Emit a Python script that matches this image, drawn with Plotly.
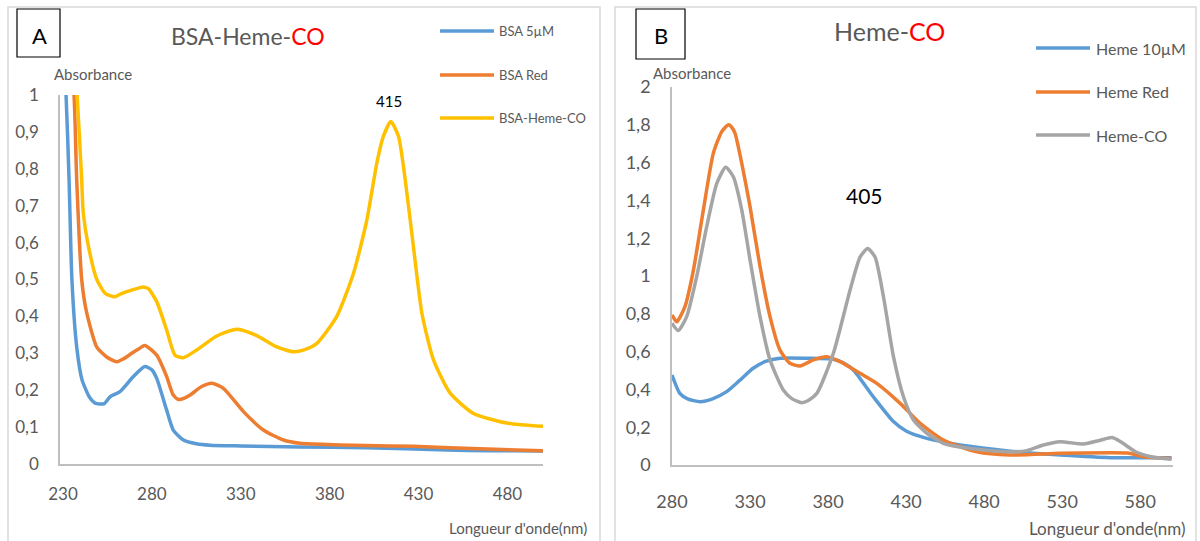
import plotly.graph_objects as go

# ---------------- Panel A data (BSA) ----------------
bsa_wl = [230, 231.7, 233.4, 235, 237.7, 240.7, 245, 248, 253, 256.4, 262, 269.6, 276, 280, 282.7,
          288.3, 292, 297.7, 305, 312.7, 330, 363, 400, 446, 470, 500]
bsa_abs = [1.12, 1.0, 0.77, 0.5, 0.317, 0.228, 0.18, 0.165, 0.163, 0.182, 0.196, 0.237, 0.264, 0.255, 0.232,
           0.146, 0.092, 0.065, 0.055, 0.051, 0.049, 0.046, 0.044, 0.038, 0.036, 0.035]

bsared_wl = [230, 236.2, 237.7, 240.5, 243.3, 249, 254.6, 260.2, 264, 268.7, 272, 276, 282.7, 288.3, 292,
             294.9, 298, 301.5, 308, 313.7, 320.2, 331.5, 342.7, 354, 363.4, 371, 400, 427, 460, 500]
bsared_abs = [1.4, 1.0, 0.77, 0.5, 0.41, 0.317, 0.29, 0.277, 0.285, 0.30, 0.31, 0.321, 0.295, 0.237, 0.187,
              0.175, 0.178, 0.187, 0.21, 0.219, 0.205, 0.142, 0.092, 0.065, 0.056, 0.054, 0.050, 0.048, 0.042, 0.036]

bsaco_wl = [230, 237.9, 240.5, 241.4, 244.3, 249, 253.6, 256, 259.3, 262, 267.7, 272, 275.2, 278, 282.7,
            288.3, 293, 297.7, 305.2, 316.5, 327.7, 339, 350, 359.6, 366, 372.8, 384, 393.4, 400.9, 406.5,
            410.2, 414.4, 418.7, 422.5, 427.1, 431.9, 438.4, 447.8, 460.9, 479.7, 500]
bsaco_abs = [1.5, 1.0, 0.77, 0.68, 0.59, 0.5, 0.463, 0.457, 0.453, 0.46, 0.47, 0.476, 0.48, 0.475, 0.44,
             0.363, 0.295, 0.288, 0.309, 0.347, 0.365, 0.348, 0.318, 0.304, 0.31, 0.327, 0.40, 0.517, 0.661, 0.815,
             0.888, 0.928, 0.888, 0.77, 0.589, 0.408, 0.282, 0.192, 0.137, 0.111, 0.102]

# ---------------- Panel B data (Heme) ----------------
heme_wl = [280, 285, 290, 298, 306, 315, 323, 332, 340, 349.2, 366.3, 383.4, 390, 396.2, 409, 421.9, 430,
           443.3, 464.6, 486, 507.4, 528.7, 560.8, 600]
heme_abs = [0.476, 0.379, 0.35, 0.335, 0.35, 0.388, 0.445, 0.512, 0.548, 0.565, 0.565, 0.56, 0.54, 0.503,
            0.361, 0.23, 0.18, 0.141, 0.106, 0.083, 0.065, 0.053, 0.039, 0.038]

hemered_wl = [280, 283, 288.3, 293.7, 300.1, 306.5, 311.9, 316.1, 318, 320.4, 324.7, 330, 336.4, 342.8, 349.2,
              355.6, 362, 370.6, 379.2, 387.7, 400.5, 411.2, 426.2, 432.6, 439, 453.9, 475.3, 496.7, 528.7,
              560.8, 572, 582, 600]
hemered_abs = [0.794, 0.758, 0.838, 1.03, 1.35, 1.65, 1.764, 1.80, 1.79, 1.755, 1.596, 1.367, 1.05, 0.785, 0.608,
               0.538, 0.524, 0.556, 0.573, 0.547, 0.485, 0.432, 0.326, 0.273, 0.22, 0.132, 0.07, 0.053, 0.062,
               0.065, 0.063, 0.044, 0.035]

hemeco_wl = [280, 284, 289.4, 295.8, 302.2, 308.7, 314.4, 319.3, 324.7, 330, 336.4, 342.8, 351.3, 357, 363.1,
             367, 372.8, 383.4, 394.1, 400.5, 405.4, 410.1, 415.5, 421.9, 428.3, 434.7, 443.3, 453.9, 475.3,
             496.7, 507.4, 518, 528.7, 543.6, 554, 562, 568, 577, 587, 600]
hemeco_abs = [0.75, 0.711, 0.785, 0.996, 1.26, 1.49, 1.575, 1.525, 1.349, 1.085, 0.785, 0.556, 0.397, 0.35, 0.33,
              0.34, 0.379, 0.591, 0.926, 1.10, 1.146, 1.10, 0.89, 0.573, 0.361, 0.238, 0.168, 0.115, 0.083,
              0.07, 0.076, 0.106, 0.123, 0.111, 0.13, 0.145, 0.12, 0.07, 0.044, 0.03]

names_a = ["BSA 5µM", "BSA Red", "BSA-Heme-CO"]
names_b = ["Heme 10µM", "Heme Red", "Heme-CO"]
colors_a = ["#5B9BD5", "#ED7D31", "#FFC000"]
colors_b = ["#5B9BD5", "#ED7D31", "#A5A5A5"]

yticks_a = [0, 0.1, 0.2, 0.3, 0.4, 0.5, 0.6, 0.7, 0.8, 0.9, 1]
yticktext_a = ["0", "0,1", "0,2", "0,3", "0,4", "0,5", "0,6", "0,7", "0,8", "0,9", "1"]
xticks_a = [230, 280, 330, 380, 430, 480]
yticks_b = [0, 0.2, 0.4, 0.6, 0.8, 1, 1.2, 1.4, 1.6, 1.8, 2]
yticktext_b = ["0", "0,2", "0,4", "0,6", "0,8", "1", "1,2", "1,4", "1,6", "1,8", "2"]
xticks_b = [280, 330, 380, 430, 480, 530, 580]

W, H = 1200, 541
FONT = "Lato, Open Sans, sans-serif"
GREY_TXT = "#595959"
AX = "#BFBFBF"

def px(x):
    return x / W

def py(y):
    return 1 - y / H

fig = go.Figure()

series_a = [(bsa_wl, bsa_abs), (bsared_wl, bsared_abs), (bsaco_wl, bsaco_abs)]
series_b = [(heme_wl, heme_abs), (hemered_wl, hemered_abs), (hemeco_wl, hemeco_abs)]

for (x, y), n, c in zip(series_a, names_a, colors_a):
    fig.add_trace(go.Scatter(x=x, y=y, name=n, mode="lines",
                             line=dict(color=c, width=3.5, shape="spline", smoothing=0.6),
                             xaxis="x", yaxis="y", showlegend=False, hoverinfo="skip"))
for (x, y), n, c in zip(series_b, names_b, colors_b):
    fig.add_trace(go.Scatter(x=x, y=y, name=n, mode="lines",
                             line=dict(color=c, width=3.5, shape="spline", smoothing=0.6),
                             xaxis="x2", yaxis="y2", showlegend=False, hoverinfo="skip"))

def axis(size, **kw):
    d = dict(showgrid=False, zeroline=False, showline=True, linecolor=AX, linewidth=1.5,
             ticks="", automargin=False, tickfont=dict(family=FONT, size=size, color=GREY_TXT))
    d.update(kw)
    return d

fig.update_layout(
    template="none",
    width=W, height=H, margin=dict(l=0, r=0, t=0, b=0, autoexpand=False),
    paper_bgcolor="white", plot_bgcolor="white", showlegend=False,
    xaxis=axis(17, domain=[px(60), px(543)], range=[228.3, 500], anchor="y",
               tickvals=xticks_a, ticklabelstandoff=14),
    yaxis=axis(17, domain=[py(464), py(95)], range=[0, 1], anchor="x",
               tickvals=yticks_a, ticktext=yticktext_a, ticklabelstandoff=16),
    xaxis2=axis(18, domain=[px(672), px(1173)], range=[280, 601], anchor="y2",
                tickvals=xticks_b, ticklabelstandoff=20),
    yaxis2=axis(18, domain=[py(465), py(87)], range=[0, 2], anchor="x2",
                tickvals=yticks_b, ticktext=yticktext_b, ticklabelstandoff=16),
)

shapes = []
annotations = []

def note(text, x, y, size, color=GREY_TXT, xanchor="center"):
    annotations.append(dict(text=text, x=px(x), y=py(y), xref="paper", yref="paper", showarrow=False,
                            xanchor=xanchor, yanchor="middle",
                            font=dict(family=FONT, size=size, color=color)))

# panel frames
shapes.append(dict(type="rect", xref="paper", yref="paper", x0=px(8), x1=px(600), y0=py(548), y1=py(7),
                   line=dict(color="#D9D9D9", width=1.5), layer="below"))
shapes.append(dict(type="rect", xref="paper", yref="paper", x0=px(615), x1=px(1196), y0=py(548), y1=py(7),
                   line=dict(color="#D9D9D9", width=1.5), layer="below"))

# letter boxes
shapes.append(dict(type="rect", xref="paper", yref="paper", x0=px(17), x1=px(60), y0=py(57), y1=py(9),
                   line=dict(color="black", width=1.2)))
shapes.append(dict(type="rect", xref="paper", yref="paper", x0=px(636), x1=px(685), y0=py(59), y1=py(9),
                   line=dict(color="black", width=1.2)))
note("A", 39, 35, 22, "black")
note("B", 661, 36, 22, "black")

# titles
note("BSA-Heme-<span style='color:#FF0000'>CO</span>", 248, 36, 23)
note("Heme-<span style='color:#FF0000'>CO</span>", 889, 31, 25)

# axis titles
note("Absorbance", 93, 74, 15)
note("Absorbance", 692, 73, 15)
note("Longueur d'onde(nm)", 589, 528, 15, xanchor="right")
note("Longueur d'onde(nm)", 1188, 528, 17, xanchor="right")

# peak labels
note("415", 389, 101, 15, "black")
note("405", 864, 196, 21, "black")

# manual legends
leg_a_y = [31, 75, 118]
for n, c, yy in zip(names_a, colors_a, leg_a_y):
    shapes.append(dict(type="line", xref="paper", yref="paper", x0=px(440), x1=px(494), y0=py(yy), y1=py(yy),
                       line=dict(color=c, width=3.5)))
    note(n, 497, yy, 13, xanchor="left")
leg_b_y = [48, 92, 135]
for n, c, yy in zip(names_b, colors_b, leg_b_y):
    shapes.append(dict(type="line", xref="paper", yref="paper", x0=px(1036), x1=px(1090), y0=py(yy), y1=py(yy),
                       line=dict(color=c, width=3.5)))
    note(n, 1094, yy, 16, xanchor="left")

fig.update_layout(shapes=shapes, annotations=annotations)
fig.write_html("out.html", config={"displayModeBar": False},
               post_script="document.body.style.margin='0';document.body.style.overflow='hidden';")
